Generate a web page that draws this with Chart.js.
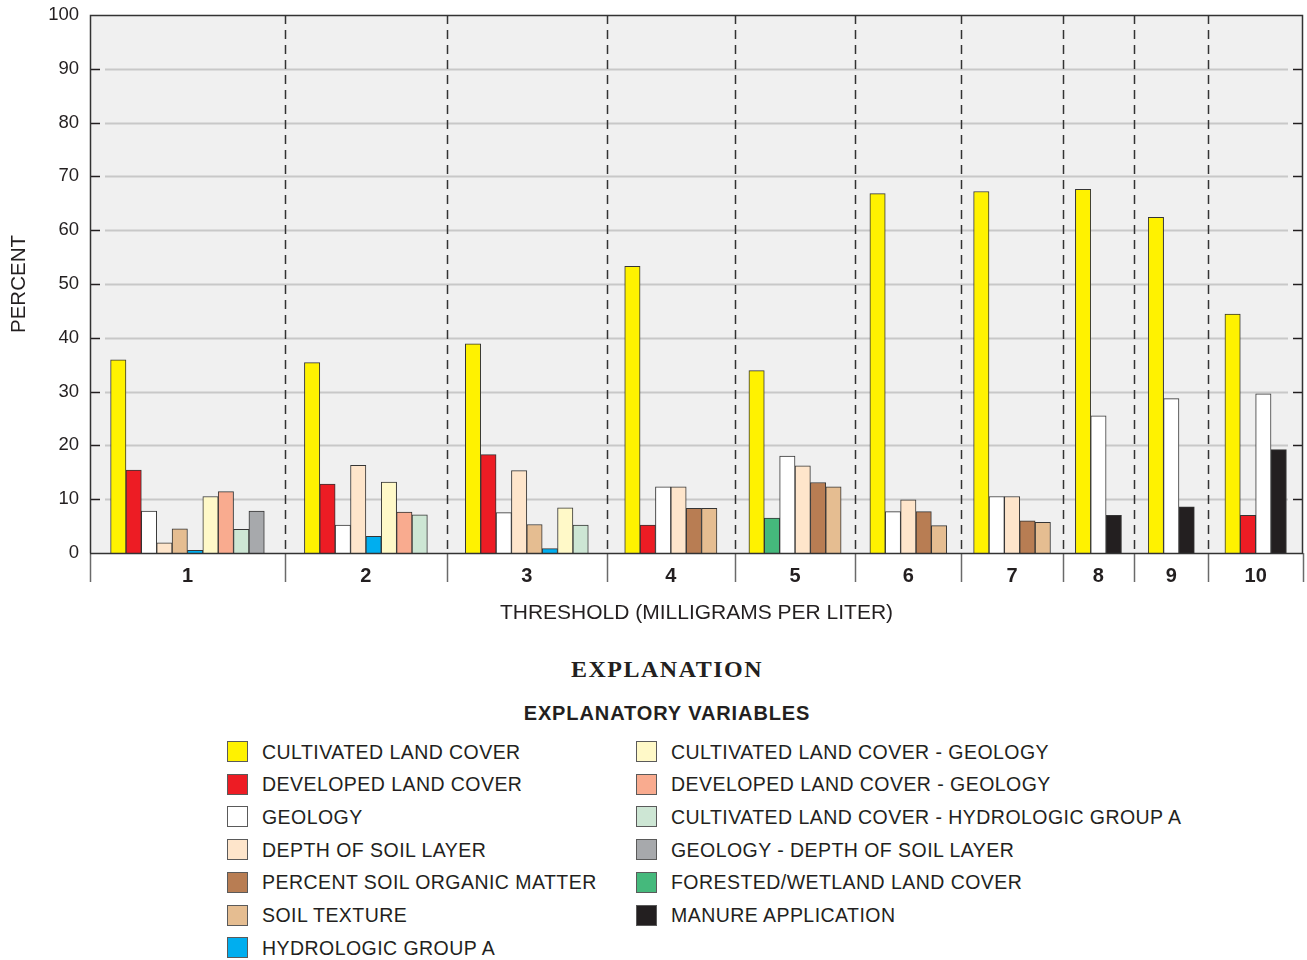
<!DOCTYPE html>
<html>
<head>
<meta charset="utf-8">
<title>Explanatory variables by threshold</title>
<script src="https://cdn.jsdelivr.net/npm/chart.js@4.4.1/dist/chart.umd.min.js"></script>
<style>
  html, body { margin: 0; padding: 0; background: #fff; }
  #page { position: relative; width: 1307px; height: 960px; overflow: hidden;
          font-family: "Liberation Sans", Arial, Helvetica, sans-serif; color: #231f20; }
  #chartBox { position: absolute; left: 0; top: 0; width: 1307px; height: 640px; }
  .heading { position: absolute; left: 0; width: 1334px; text-align: center; white-space: nowrap; }
  #explanation { top: 654px; font-family: "Liberation Serif", "Times New Roman", serif;
                 font-weight: bold; font-size: 24px; line-height: 30px; letter-spacing: 1.5px; }
  #varsTitle { top: 701px; font-weight: bold; font-size: 20px; line-height: 24px; letter-spacing: 0.9px; }
  .item { position: absolute; height: 24px; display: flex; align-items: center; white-space: nowrap; }
  .swatch { width: 21px; height: 21px; box-sizing: border-box; border: 1px solid #5a5a5a; margin-right: 14px; }
  .item span { font-size: 19.5px; line-height: 24px; letter-spacing: 0.45px; }
</style>
</head>
<body>
<div id="page">
  <div id="chartBox"><canvas id="chart" width="1307" height="640"></canvas></div>
  <div id="explanation" class="heading">EXPLANATION</div>
  <div id="varsTitle" class="heading">EXPLANATORY VARIABLES</div>
  <div id="legend"></div>
</div>
<script>
// Nitrate threshold groups (milligrams per liter)
const thresholds = ['1', '2', '3', '4', '5', '6', '7', '8', '9', '10'];

// Percent of models selecting each explanatory variable, per threshold (null = not selected)
const cultivatedLandCover   = [35.9, 35.4, 38.9, 53.3, 33.9, 66.8, 67.2, 67.6, 62.4, 44.4];
const developedLandCover    = [15.4, 12.8, 18.3, 5.2, null, null, null, null, null, 7.0];
const forestedWetland       = [null, null, null, null, 6.5, null, null, null, null, null];
const geology               = [7.8, 5.2, 7.5, 12.3, 18.0, 7.7, 10.5, 25.5, 28.7, 29.6];
const depthOfSoilLayer      = [1.9, 16.3, 15.3, 12.3, 16.2, 9.9, 10.5, null, null, null];
const soilOrganicMatter     = [null, null, null, 8.3, 13.1, 7.7, 6.0, null, null, null];
const soilTexture           = [4.5, null, 5.3, 8.3, 12.3, 5.1, 5.7, null, null, null];
const hydrologicGroupA      = [0.5, 3.1, 0.8, null, null, null, null, null, null, null];
const cultivatedGeology     = [10.5, 13.2, 8.4, null, null, null, null, null, null, null];
const developedGeology      = [11.4, 7.6, null, null, null, null, null, null, null, null];
const cultivatedHydroGroupA = [4.4, 7.1, 5.2, null, null, null, null, null, null, null];
const geologyDepthOfSoil    = [7.8, null, null, null, null, null, null, null, null, null];
const manureApplication     = [null, null, null, null, null, null, null, 7.0, 8.6, 19.2];

// Side spacing of each threshold group, in bar widths
const groupPad = [1.34, 1.27, 1.2, 1.17, 0.91, 0.96, 0.79, 0.83, 0.91, 1.08];

// Series in the order bars are laid out inside a group
const series = [
  { key: 'cult',      label: 'CULTIVATED LAND COVER',                     values: cultivatedLandCover,   color: '#fff200' },
  { key: 'dev',       label: 'DEVELOPED LAND COVER',                      values: developedLandCover,    color: '#ed1c24' },
  { key: 'forest',    label: 'FORESTED/WETLAND LAND COVER',               values: forestedWetland,       color: '#45b97c' },
  { key: 'geol',      label: 'GEOLOGY',                                   values: geology,               color: '#ffffff' },
  { key: 'depth',     label: 'DEPTH OF SOIL LAYER',                       values: depthOfSoilLayer,      color: '#fee5cb' },
  { key: 'organic',   label: 'PERCENT SOIL ORGANIC MATTER',               values: soilOrganicMatter,     color: '#b87d53' },
  { key: 'texture',   label: 'SOIL TEXTURE',                              values: soilTexture,           color: '#e5bd91' },
  { key: 'hydroA',    label: 'HYDROLOGIC GROUP A',                        values: hydrologicGroupA,      color: '#00aeef' },
  { key: 'cultGeol',  label: 'CULTIVATED LAND COVER - GEOLOGY',           values: cultivatedGeology,     color: '#fff9c8' },
  { key: 'devGeol',   label: 'DEVELOPED LAND COVER - GEOLOGY',            values: developedGeology,      color: '#f9ab8f' },
  { key: 'cultHydro', label: 'CULTIVATED LAND COVER - HYDROLOGIC GROUP A', values: cultivatedHydroGroupA, color: '#cde6d4' },
  { key: 'geolDepth', label: 'GEOLOGY - DEPTH OF SOIL LAYER',             values: geologyDepthOfSoil,    color: '#a7a9ac' },
  { key: 'manure',    label: 'MANURE APPLICATION',                        values: manureApplication,     color: '#231f20' }
];

// Legend columns
const legendLeft  = ['cult', 'dev', 'geol', 'depth', 'organic', 'texture', 'hydroA'];
const legendRight = ['cultGeol', 'devGeol', 'cultHydro', 'geolDepth', 'forest', 'manure'];

// Lay out groups along a linear x axis: each bar is one unit wide
const groups = [];
let cursor = 0;
thresholds.forEach((t, g) => {
  const present = series.filter(s => s.values[g] !== null);
  const start = cursor;
  const pos = {};
  present.forEach((s, i) => { pos[s.key] = start + groupPad[g] + i + 0.5; });
  cursor = start + 2 * groupPad[g] + present.length;
  groups.push({ start, end: cursor, center: (start + cursor) / 2, pos });
});
const xMax = cursor;

const datasets = series.map(s => ({
  label: s.label,
  data: thresholds.map((t, g) => s.values[g] === null ? null : { x: groups[g].pos[s.key], y: s.values[g] })
                  .filter(p => p !== null),
  backgroundColor: s.color,
  borderColor: '#353535',
  borderWidth: 1,
  grouped: false,
  barPercentage: 1,
  categoryPercentage: 1
}));

const INK = '#231f20';

// Plot frame: background, inset gridlines, inside ticks, dashed group dividers
const framePlugin = {
  id: 'frame',
  beforeDatasetsDraw(chart) {
    const { ctx, chartArea: a, scales: { x, y } } = chart;
    ctx.save();
    ctx.fillStyle = '#f0f0f0';
    ctx.fillRect(a.left, a.top, a.right - a.left, a.bottom - a.top);

    for (let v = 10; v < 100; v += 10) {
      const py = Math.round(y.getPixelForValue(v)) + 0.5;
      ctx.strokeStyle = '#c8c8c8';
      ctx.lineWidth = 2;
      ctx.beginPath(); ctx.moveTo(a.left + 15, py); ctx.lineTo(a.right - 15, py); ctx.stroke();
      ctx.strokeStyle = INK;
      ctx.lineWidth = 1.5;
      ctx.beginPath(); ctx.moveTo(a.left, py); ctx.lineTo(a.left + 10, py); ctx.stroke();
      ctx.beginPath(); ctx.moveTo(a.right - 10, py); ctx.lineTo(a.right, py); ctx.stroke();
    }

    // dashed dividers between threshold groups
    ctx.strokeStyle = '#333333';
    ctx.lineWidth = 1.5;
    ctx.setLineDash([9, 6]);
    groups.slice(1).forEach(gr => {
      const px = Math.round(x.getPixelForValue(gr.start)) + 0.5;
      ctx.beginPath(); ctx.moveTo(px, a.top); ctx.lineTo(px, a.bottom); ctx.stroke();
    });
    ctx.setLineDash([]);

    // solid dividers below the axis
    ctx.strokeStyle = '#6a6a6a';
    const edges = groups.map(gr => gr.start).concat([xMax]);
    edges.forEach(e => {
      const px = Math.round(x.getPixelForValue(e)) + 0.5;
      ctx.beginPath(); ctx.moveTo(px, a.bottom); ctx.lineTo(px, a.bottom + 29); ctx.stroke();
    });

    // frame: top, left, right
    ctx.strokeStyle = '#333333';
    ctx.lineWidth = 1.5;
    ctx.beginPath();
    ctx.moveTo(a.left + 0.5, a.bottom);
    ctx.lineTo(a.left + 0.5, a.top + 0.5);
    ctx.lineTo(a.right - 0.5, a.top + 0.5);
    ctx.lineTo(a.right - 0.5, a.bottom);
    ctx.stroke();
    ctx.restore();
  },
  afterDatasetsDraw(chart) {
    const { ctx, chartArea: a, scales: { y } } = chart;
    const py = Math.round(y.getPixelForValue(0)) + 0.5;
    ctx.save();
    ctx.strokeStyle = '#333333';
    ctx.lineWidth = 1.5;
    ctx.beginPath(); ctx.moveTo(a.left, py); ctx.lineTo(a.right, py); ctx.stroke();
    ctx.restore();
  }
};

new Chart(document.getElementById('chart'), {
  type: 'bar',
  data: { datasets },
  options: {
    responsive: false,
    animation: false,
    devicePixelRatio: 1,
    layout: { padding: { left: 0, right: 4, top: 15, bottom: 0 } },
    plugins: { legend: { display: false }, tooltip: { enabled: false } },
    scales: {
      x: {
        type: 'linear',
        min: 0,
        max: xMax,
        offset: false,
        grid: { display: false, drawTicks: false },
        border: { display: false },
        afterBuildTicks: sc => { sc.ticks = groups.map(gr => ({ value: gr.center })); },
        afterFit: sc => { sc.height = 87; sc.paddingLeft = 0; sc.paddingRight = 0; },
        ticks: {
          autoSkip: false,
          maxRotation: 0,
          padding: 11,
          color: INK,
          font: { family: '"Liberation Sans", Arial, sans-serif', size: 20, weight: 'bold' },
          callback: (v, i) => thresholds[i]
        },
        title: {
          display: true,
          text: 'THRESHOLD (MILLIGRAMS PER LITER)',
          color: INK,
          font: { family: '"Liberation Sans", Arial, sans-serif', size: 21 },
          padding: { top: 0, bottom: 14 }
        }
      },
      y: {
        min: 0,
        max: 100,
        grid: { display: false, drawTicks: false },
        border: { display: false },
        afterFit: sc => { sc.width = 90; sc.paddingTop = 0; sc.paddingBottom = 0; },
        ticks: {
          stepSize: 10,
          padding: 11,
          color: INK,
          font: { family: '"Liberation Sans", Arial, sans-serif', size: 18.5 }
        },
        title: {
          display: true,
          text: 'PERCENT',
          color: INK,
          font: { family: '"Liberation Sans", Arial, sans-serif', size: 20.5 },
          padding: { top: 7, bottom: 0 }
        }
      }
    }
  },
  plugins: [framePlugin]
});

// Legend built from the same series definitions
const byKey = Object.fromEntries(series.map(s => [s.key, s]));
const legendEl = document.getElementById('legend');
function addColumn(keys, left) {
  keys.forEach((k, i) => {
    const s = byKey[k];
    const row = document.createElement('div');
    row.className = 'item';
    row.style.left = left + 'px';
    row.style.top = (751.5 + 32.7 * i - 12) + 'px';
    const sw = document.createElement('div');
    sw.className = 'swatch';
    sw.style.background = s.color;
    const tx = document.createElement('span');
    tx.textContent = s.label;
    row.appendChild(sw);
    row.appendChild(tx);
    legendEl.appendChild(row);
  });
}
addColumn(legendLeft, 227);
addColumn(legendRight, 636);
</script>
</body>
</html>
